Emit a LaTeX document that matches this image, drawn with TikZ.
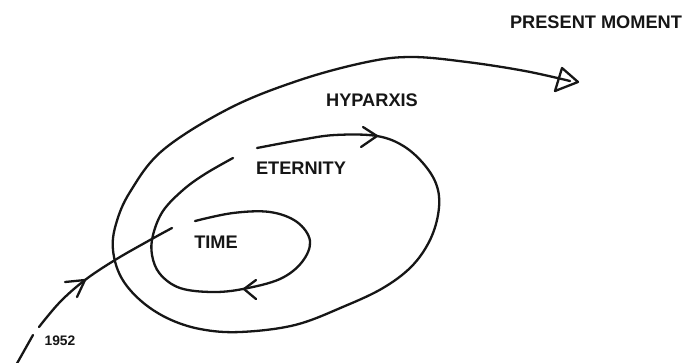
\documentclass[tikz,border=0pt]{standalone}
\usepackage{fontspec}
\setmainfont{Liberation Sans}
\definecolor{ink}{HTML}{161616}
\tikzset{
  ink line/.style={draw=ink, line width=2.3pt, line cap=round, line join=round},
  lbl/.style={text=ink, font=\fontsize{18.2}{20}\selectfont\bfseries, inner sep=0pt},
  small lbl/.style={text=ink, font=\fontsize{13.8}{16}\selectfont\bfseries, inner sep=0pt}
}
\begin{document}
\begin{tikzpicture}[x=1pt,y=-1pt]
\useasboundingbox (0,0) rectangle (687,362);
\fill[white] (0,0) rectangle (687,362);

% labels
\node[lbl] (present) at (596,22) {PRESENT MOMENT};
\node[lbl] (hyparxis) at (372,100) {HYPARXIS};
\node[lbl] (eternity) at (301,168) {ETERNITY};
\node[lbl] (time) at (216,242) {TIME};
\node[small lbl] (year) at (60,341) {1952};

% incoming line
\coordinate (in0) at (15,367);
\coordinate (in1) at (33,335);
\draw[ink line] (in0) -- (in1);
\draw[ink line] plot[smooth, tension=0.6] coordinates {(39,327) (60,302) (85,280) (115,260) (150,240) (172,228)};
\coordinate (a1tip) at (85,280);
\draw[ink line] (65,282) -- (a1tip) -- (77,297);

% inner spiral: time loop and eternity left side
\draw[ink line] plot[smooth, tension=0.6] coordinates {(195,221) (233,213) (270,212) (297,222) (310,241) (302,262) (280,279) (243,289) (212,292) (180,288) (160,274) (152,255) (153,235) (163,211) (183,190) (205,174) (233,158)};
\coordinate (a2tip) at (244,289);
\draw[ink line] (256,280) -- (a2tip) -- (256,299);

% eternity top, right side, bottom, outer loop, top
\draw[ink line] plot[smooth, tension=0.6] coordinates {(257,148) (300,140) (335,135) (377,136) (405,147) (427,168) (438,190) (438,215) (429,242) (411,267) (383,288) (345,306) (295,325) (240,332) (200,329) (167,318) (140,300) (121,277) (113,250) (116,224) (130,192) (163,150) (230,108) (300,80) (367,62) (412,57) (467,62) (525,71) (570,81)};
\coordinate (a3tip) at (377,136);
\draw[ink line] (363,127) -- (a3tip) -- (361,147);

\coordinate (a4tip) at (578,82);
\draw[ink line] (562,68) -- (a4tip) -- (555,91) -- cycle;
\end{tikzpicture}
\end{document}
